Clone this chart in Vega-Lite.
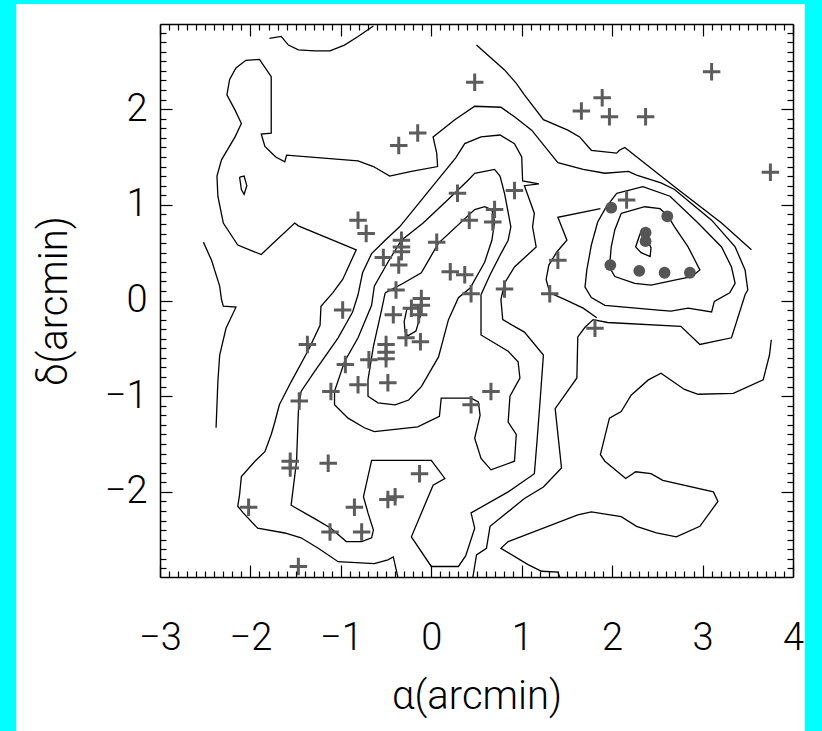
{
  "$schema": "https://vega.github.io/schema/vega-lite/v6.json",
  "width": 633,
  "height": 553,
  "autosize": {"type": "none"},
  "padding": {"left": 160, "top": 24, "right": 29, "bottom": 154},
  "background": "#00FFFF",
  "config": {"view": {"stroke": null, "fill": null}},
  "datasets": {
    "contours": [
      {"c":"A","i":0,"x":-1.79,"y":2.74},{"c":"A","i":1,"x":-1.66,"y":2.76},{"c":"A","i":2,"x":-1.58,"y":2.67},{"c":"A","i":3,"x":-1.47,"y":2.62},{"c":"A","i":4,"x":-1.29,"y":2.61},{"c":"A","i":5,"x":-1.12,"y":2.61},{"c":"A","i":6,"x":-0.96,"y":2.67},{"c":"A","i":7,"x":-0.81,"y":2.76},{"c":"A","i":8,"x":-0.64,"y":2.87},
      {"c":"C","i":0,"x":-2.52,"y":0.61},{"c":"C","i":1,"x":-2.43,"y":0.42},{"c":"C","i":2,"x":-2.34,"y":0.15},{"c":"C","i":3,"x":-2.32,"y":0.01},{"c":"C","i":4,"x":-2.30,"y":-0.06},{"c":"C","i":5,"x":-2.16,"y":-0.07},{"c":"C","i":6,"x":-2.27,"y":-0.29},{"c":"C","i":7,"x":-2.34,"y":-0.57},{"c":"C","i":8,"x":-2.36,"y":-0.85},{"c":"C","i":9,"x":-2.38,"y":-1.33},
      {"c":"S","i":0,"x":-2.12,"y":1.29},{"c":"S","i":1,"x":-2.07,"y":1.30},{"c":"S","i":2,"x":-2.04,"y":1.20},{"c":"S","i":3,"x":-2.07,"y":1.11},{"c":"S","i":4,"x":-2.10,"y":1.16},{"c":"S","i":5,"x":-2.12,"y":1.29},
      {"c":"D","i":0,"x":0.50,"y":2.67},{"c":"D","i":1,"x":0.81,"y":2.41},{"c":"D","i":2,"x":0.94,"y":2.27},{"c":"D","i":3,"x":1.03,"y":2.15},{"c":"D","i":4,"x":1.24,"y":1.89},{"c":"D","i":5,"x":1.51,"y":1.78},{"c":"D","i":6,"x":1.64,"y":1.71},{"c":"D","i":7,"x":1.77,"y":1.57},{"c":"D","i":8,"x":2.05,"y":1.54},{"c":"D","i":9,"x":2.08,"y":1.57},{"c":"D","i":10,"x":2.14,"y":1.60},{"c":"D","i":11,"x":2.69,"y":1.19},{"c":"D","i":12,"x":3.21,"y":0.81},{"c":"D","i":13,"x":3.54,"y":0.53},
      {"c":"B","i":0,"x":-0.37,"y":-2.89},{"c":"B","i":1,"x":-0.42,"y":-2.68},{"c":"B","i":2,"x":-0.48,"y":-2.71},{"c":"B","i":3,"x":-0.63,"y":-2.75},{"c":"B","i":4,"x":-1.03,"y":-2.73},{"c":"B","i":5,"x":-1.25,"y":-2.59},{"c":"B","i":6,"x":-1.44,"y":-2.48},{"c":"B","i":7,"x":-1.62,"y":-2.43},{"c":"B","i":8,"x":-1.92,"y":-2.38},{"c":"B","i":9,"x":-2.08,"y":-2.22},{"c":"B","i":10,"x":-2.14,"y":-2.15},{"c":"B","i":11,"x":-2.12,"y":-2.03},{"c":"B","i":12,"x":-2.10,"y":-1.84},{"c":"B","i":13,"x":-1.95,"y":-1.68},{"c":"B","i":14,"x":-1.84,"y":-1.58},{"c":"B","i":15,"x":-1.77,"y":-1.40},{"c":"B","i":16,"x":-1.73,"y":-1.27},{"c":"B","i":17,"x":-1.68,"y":-1.09},{"c":"B","i":18,"x":-1.55,"y":-0.85},{"c":"B","i":19,"x":-1.36,"y":-0.52},{"c":"B","i":20,"x":-1.23,"y":-0.26},{"c":"B","i":21,"x":-1.22,"y":-0.06},{"c":"B","i":22,"x":-1.09,"y":0.08},{"c":"B","i":23,"x":-0.98,"y":0.22},{"c":"B","i":24,"x":-0.83,"y":0.53},{"c":"B","i":25,"x":-1.47,"y":0.78},{"c":"B","i":26,"x":-1.51,"y":0.81},{"c":"B","i":27,"x":-1.77,"y":0.58},{"c":"B","i":28,"x":-1.88,"y":0.48},{"c":"B","i":29,"x":-2.14,"y":0.58},{"c":"B","i":30,"x":-2.30,"y":0.81},{"c":"B","i":31,"x":-2.36,"y":1.09},{"c":"B","i":32,"x":-2.37,"y":1.30},{"c":"B","i":33,"x":-2.32,"y":1.47},{"c":"B","i":34,"x":-2.17,"y":1.71},{"c":"B","i":35,"x":-2.10,"y":1.85},{"c":"B","i":36,"x":-2.17,"y":1.99},{"c":"B","i":37,"x":-2.26,"y":2.15},{"c":"B","i":38,"x":-2.23,"y":2.31},{"c":"B","i":39,"x":-2.16,"y":2.43},{"c":"B","i":40,"x":-2.05,"y":2.51},{"c":"B","i":41,"x":-1.90,"y":2.52},{"c":"B","i":42,"x":-1.77,"y":2.34},{"c":"B","i":43,"x":-1.77,"y":1.75},{"c":"B","i":44,"x":-1.88,"y":1.74},{"c":"B","i":45,"x":-1.84,"y":1.61},{"c":"B","i":46,"x":-1.72,"y":1.50},{"c":"B","i":47,"x":-1.62,"y":1.45},{"c":"B","i":48,"x":-1.60,"y":1.52},{"c":"B","i":49,"x":-0.81,"y":1.46},{"c":"B","i":50,"x":-0.64,"y":1.40},{"c":"B","i":51,"x":-0.46,"y":1.30},{"c":"B","i":52,"x":-0.22,"y":1.35},{"c":"B","i":53,"x":0.07,"y":1.40},{"c":"B","i":54,"x":0.06,"y":1.54},{"c":"B","i":55,"x":0.02,"y":1.71},{"c":"B","i":56,"x":0.26,"y":1.89},{"c":"B","i":57,"x":0.48,"y":2.03},{"c":"B","i":58,"x":0.77,"y":2.02},{"c":"B","i":59,"x":0.92,"y":1.92},{"c":"B","i":60,"x":1.11,"y":1.78},{"c":"B","i":61,"x":1.29,"y":1.57},{"c":"B","i":62,"x":1.40,"y":1.44},{"c":"B","i":63,"x":1.68,"y":1.37},{"c":"B","i":64,"x":1.92,"y":1.33},{"c":"B","i":65,"x":2.18,"y":1.35},{"c":"B","i":66,"x":2.27,"y":1.31},{"c":"B","i":67,"x":2.54,"y":1.23},{"c":"B","i":68,"x":2.69,"y":1.16},{"c":"B","i":69,"x":3.10,"y":0.84},{"c":"B","i":70,"x":3.36,"y":0.56},{"c":"B","i":71,"x":3.47,"y":0.32},{"c":"B","i":72,"x":3.50,"y":0.11},{"c":"B","i":73,"x":3.47,"y":0.06},{"c":"B","i":74,"x":3.32,"y":-0.39},{"c":"B","i":75,"x":2.97,"y":-0.46},{"c":"B","i":76,"x":2.76,"y":-0.27},{"c":"B","i":77,"x":1.95,"y":-0.23},{"c":"B","i":78,"x":1.79,"y":-0.20},{"c":"B","i":79,"x":1.70,"y":-0.28},{"c":"B","i":80,"x":1.62,"y":-0.38},{"c":"B","i":81,"x":1.61,"y":-0.81},{"c":"B","i":82,"x":1.37,"y":-1.13},{"c":"B","i":83,"x":1.44,"y":-1.75},{"c":"B","i":84,"x":1.24,"y":-1.95},{"c":"B","i":85,"x":1.03,"y":-2.07},{"c":"B","i":86,"x":0.65,"y":-2.36},{"c":"B","i":87,"x":0.61,"y":-2.59},{"c":"B","i":88,"x":0.50,"y":-2.66},{"c":"B","i":89,"x":0.46,"y":-2.89},
      {"c":"L","i":0,"x":-0.81,"y":0.06},{"c":"L","i":1,"x":-0.87,"y":-0.12},{"c":"L","i":2,"x":-1.03,"y":-0.39},{"c":"L","i":3,"x":-1.29,"y":-0.74},{"c":"L","i":4,"x":-1.44,"y":-0.95},{"c":"L","i":5,"x":-1.47,"y":-1.16},{"c":"L","i":6,"x":-1.49,"y":-1.68},{"c":"L","i":7,"x":-1.55,"y":-2.14},{"c":"L","i":8,"x":-1.29,"y":-2.28},{"c":"L","i":9,"x":-1.11,"y":-2.38},{"c":"L","i":10,"x":-0.94,"y":-2.52},{"c":"L","i":11,"x":-0.77,"y":-2.52},{"c":"L","i":12,"x":-0.66,"y":-2.48},{"c":"L","i":13,"x":-0.64,"y":-2.40},{"c":"L","i":14,"x":-0.70,"y":-2.22},{"c":"L","i":15,"x":-0.75,"y":-2.05},{"c":"L","i":16,"x":-0.66,"y":-1.67},{"c":"L","i":17,"x":0.00,"y":-1.67},{"c":"L","i":18,"x":0.15,"y":-1.86},{"c":"L","i":19,"x":0.02,"y":-1.93},{"c":"L","i":20,"x":-0.22,"y":-2.47},{"c":"L","i":21,"x":0.00,"y":-2.78},{"c":"L","i":22,"x":0.30,"y":-2.78},{"c":"L","i":23,"x":0.38,"y":-2.67},{"c":"L","i":24,"x":0.48,"y":-2.38},{"c":"L","i":25,"x":0.44,"y":-2.22},{"c":"L","i":26,"x":0.85,"y":-2.00},{"c":"L","i":27,"x":1.14,"y":-1.81},{"c":"L","i":28,"x":1.17,"y":-1.46},{"c":"L","i":29,"x":1.20,"y":-1.09},{"c":"L","i":30,"x":1.24,"y":-0.57},{"c":"L","i":31,"x":1.03,"y":-0.33},{"c":"L","i":32,"x":0.79,"y":-0.20},{"c":"L","i":33,"x":0.77,"y":0.01},{"c":"L","i":34,"x":0.81,"y":0.18},{"c":"L","i":35,"x":0.92,"y":0.35},{"c":"L","i":36,"x":1.16,"y":0.56},{"c":"L","i":37,"x":1.12,"y":0.77},{"c":"L","i":38,"x":1.14,"y":0.91},{"c":"L","i":39,"x":1.03,"y":1.20},{"c":"L","i":40,"x":1.19,"y":1.22},{"c":"L","i":41,"x":1.01,"y":1.25},{"c":"L","i":42,"x":1.00,"y":1.50},{"c":"L","i":43,"x":0.92,"y":1.64},{"c":"L","i":44,"x":0.76,"y":1.73},{"c":"L","i":45,"x":0.55,"y":1.71},{"c":"L","i":46,"x":0.37,"y":1.64},{"c":"L","i":47,"x":0.27,"y":1.49},{"c":"L","i":48,"x":0.02,"y":1.20},{"c":"L","i":49,"x":-0.35,"y":0.77},{"c":"L","i":50,"x":-0.51,"y":0.63},{"c":"L","i":51,"x":-0.66,"y":0.49},{"c":"L","i":52,"x":-0.76,"y":0.29},{"c":"L","i":53,"x":-0.81,"y":0.06},
      {"c":"E","i":0,"x":0.55,"y":0.06},{"c":"E","i":1,"x":0.65,"y":0.27},{"c":"E","i":2,"x":0.77,"y":0.49},{"c":"E","i":3,"x":0.85,"y":0.63},{"c":"E","i":4,"x":0.88,"y":0.77},{"c":"E","i":5,"x":0.81,"y":1.12},{"c":"E","i":6,"x":0.76,"y":1.30},{"c":"E","i":7,"x":0.70,"y":1.37},{"c":"E","i":8,"x":0.48,"y":1.33},{"c":"E","i":9,"x":0.41,"y":1.26},{"c":"E","i":10,"x":0.18,"y":1.05},{"c":"E","i":11,"x":-0.09,"y":0.81},{"c":"E","i":12,"x":-0.33,"y":0.63},{"c":"E","i":13,"x":-0.48,"y":0.40},{"c":"E","i":14,"x":-0.63,"y":0.15},{"c":"E","i":15,"x":-0.66,"y":-0.05},{"c":"E","i":16,"x":-0.81,"y":-0.39},{"c":"E","i":17,"x":-0.96,"y":-0.64},{"c":"E","i":18,"x":-1.07,"y":-0.95},{"c":"E","i":19,"x":-1.07,"y":-1.09},{"c":"E","i":20,"x":-0.92,"y":-1.23},{"c":"E","i":21,"x":-0.74,"y":-1.33},{"c":"E","i":22,"x":-0.63,"y":-1.37},{"c":"E","i":23,"x":-0.15,"y":-1.32},{"c":"E","i":24,"x":0.09,"y":-1.21},{"c":"E","i":25,"x":0.11,"y":-1.02},{"c":"E","i":26,"x":0.44,"y":-1.02},{"c":"E","i":27,"x":0.52,"y":-1.06},{"c":"E","i":28,"x":0.54,"y":-1.20},{"c":"E","i":29,"x":0.48,"y":-1.44},{"c":"E","i":30,"x":0.55,"y":-1.65},{"c":"E","i":31,"x":0.66,"y":-1.77},{"c":"E","i":32,"x":0.92,"y":-1.68},{"c":"E","i":33,"x":0.94,"y":-1.40},{"c":"E","i":34,"x":0.85,"y":-1.27},{"c":"E","i":35,"x":0.87,"y":-1.00},{"c":"E","i":36,"x":0.98,"y":-0.81},{"c":"E","i":37,"x":0.96,"y":-0.64},{"c":"E","i":38,"x":0.85,"y":-0.53},{"c":"E","i":39,"x":0.55,"y":-0.36},{"c":"E","i":40,"x":0.55,"y":0.06},
      {"c":"I2","i":0,"x":-0.51,"y":0.08},{"c":"I2","i":1,"x":-0.31,"y":0.18},{"c":"I2","i":2,"x":-0.11,"y":0.29},{"c":"I2","i":3,"x":0.08,"y":0.60},{"c":"I2","i":4,"x":0.48,"y":0.95},{"c":"I2","i":5,"x":0.59,"y":0.98},{"c":"I2","i":6,"x":0.67,"y":0.95},{"c":"I2","i":7,"x":0.70,"y":0.82},{"c":"I2","i":8,"x":0.67,"y":0.63},{"c":"I2","i":9,"x":0.59,"y":0.40},{"c":"I2","i":10,"x":0.43,"y":0.13},{"c":"I2","i":11,"x":0.30,"y":0.03},{"c":"I2","i":12,"x":0.19,"y":-0.20},{"c":"I2","i":13,"x":0.08,"y":-0.59},{"c":"I2","i":14,"x":-0.11,"y":-0.90},{"c":"I2","i":15,"x":-0.25,"y":-1.04},{"c":"I2","i":16,"x":-0.40,"y":-1.09},{"c":"I2","i":17,"x":-0.59,"y":-1.07},{"c":"I2","i":18,"x":-0.70,"y":-1.00},{"c":"I2","i":19,"x":-0.70,"y":-0.83},{"c":"I2","i":20,"x":-0.64,"y":-0.48},{"c":"I2","i":21,"x":-0.55,"y":-0.10},{"c":"I2","i":22,"x":-0.51,"y":0.08},
      {"c":"I1","i":0,"x":-0.27,"y":-0.09},{"c":"I1","i":1,"x":-0.30,"y":-0.22},{"c":"I1","i":2,"x":-0.29,"y":-0.33},{"c":"I1","i":3,"x":-0.26,"y":-0.37},{"c":"I1","i":4,"x":-0.17,"y":-0.32},{"c":"I1","i":5,"x":-0.12,"y":-0.16},{"c":"I1","i":6,"x":-0.16,"y":-0.07},{"c":"I1","i":7,"x":-0.27,"y":-0.09},
      {"c":"R1","i":0,"x":2.31,"y":0.70},{"c":"R1","i":1,"x":2.26,"y":0.56},{"c":"R1","i":2,"x":2.32,"y":0.50},{"c":"R1","i":3,"x":2.42,"y":0.46},{"c":"R1","i":4,"x":2.43,"y":0.55},{"c":"R1","i":5,"x":2.37,"y":0.68},{"c":"R1","i":6,"x":2.31,"y":0.70},
      {"c":"R2","i":0,"x":2.10,"y":0.91},{"c":"R2","i":1,"x":2.36,"y":0.98},{"c":"R2","i":2,"x":2.53,"y":0.96},{"c":"R2","i":3,"x":2.62,"y":0.88},{"c":"R2","i":4,"x":2.69,"y":0.77},{"c":"R2","i":5,"x":2.84,"y":0.56},{"c":"R2","i":6,"x":2.97,"y":0.32},{"c":"R2","i":7,"x":2.88,"y":0.25},{"c":"R2","i":8,"x":2.73,"y":0.22},{"c":"R2","i":9,"x":2.43,"y":0.16},{"c":"R2","i":10,"x":2.25,"y":0.18},{"c":"R2","i":11,"x":2.03,"y":0.25},{"c":"R2","i":12,"x":1.97,"y":0.35},{"c":"R2","i":13,"x":1.99,"y":0.56},{"c":"R2","i":14,"x":2.03,"y":0.74},{"c":"R2","i":15,"x":2.10,"y":0.91},
      {"c":"R3","i":0,"x":2.05,"y":1.12},{"c":"R3","i":1,"x":2.34,"y":1.19},{"c":"R3","i":2,"x":2.64,"y":1.09},{"c":"R3","i":3,"x":2.95,"y":0.81},{"c":"R3","i":4,"x":3.21,"y":0.56},{"c":"R3","i":5,"x":3.32,"y":0.35},{"c":"R3","i":6,"x":3.36,"y":0.18},{"c":"R3","i":7,"x":3.30,"y":0.08},{"c":"R3","i":8,"x":3.13,"y":-0.01},{"c":"R3","i":9,"x":3.10,"y":-0.12},{"c":"R3","i":10,"x":2.84,"y":-0.08},{"c":"R3","i":11,"x":2.65,"y":-0.11},{"c":"R3","i":12,"x":2.51,"y":-0.10},{"c":"R3","i":13,"x":1.92,"y":-0.05},{"c":"R3","i":14,"x":1.77,"y":0.03},{"c":"R3","i":15,"x":1.70,"y":0.14},{"c":"R3","i":16,"x":1.72,"y":0.32},{"c":"R3","i":17,"x":1.77,"y":0.58},{"c":"R3","i":18,"x":1.84,"y":0.82},{"c":"R3","i":19,"x":1.93,"y":0.97},{"c":"R3","i":20,"x":2.05,"y":1.12},
      {"c":"R4","i":0,"x":1.87,"y":0.96},{"c":"R4","i":1,"x":1.40,"y":0.87},{"c":"R4","i":2,"x":1.50,"y":0.63},{"c":"R4","i":3,"x":1.39,"y":0.51},{"c":"R4","i":4,"x":1.30,"y":0.37},{"c":"R4","i":5,"x":1.27,"y":0.22},{"c":"R4","i":6,"x":1.31,"y":0.08},{"c":"R4","i":7,"x":1.48,"y":0.01},{"c":"R4","i":8,"x":1.68,"y":-0.08},{"c":"R4","i":9,"x":1.83,"y":-0.18},
      {"c":"H","i":0,"x":3.76,"y":-0.41},{"c":"H","i":1,"x":3.74,"y":-0.57},{"c":"H","i":2,"x":3.67,"y":-0.83},{"c":"H","i":3,"x":3.34,"y":-0.97},{"c":"H","i":4,"x":2.95,"y":-0.98},{"c":"H","i":5,"x":2.80,"y":-0.93},{"c":"H","i":6,"x":2.54,"y":-0.76},{"c":"H","i":7,"x":2.40,"y":-0.83},{"c":"H","i":8,"x":2.21,"y":-0.99},{"c":"H","i":9,"x":2.10,"y":-1.16},{"c":"H","i":10,"x":1.97,"y":-1.23},{"c":"H","i":11,"x":1.87,"y":-1.61},{"c":"H","i":12,"x":1.92,"y":-1.68},{"c":"H","i":13,"x":2.15,"y":-1.86},{"c":"H","i":14,"x":2.26,"y":-1.79},{"c":"H","i":15,"x":2.43,"y":-1.81},{"c":"H","i":16,"x":2.56,"y":-1.88},{"c":"H","i":17,"x":3.12,"y":-2.00},{"c":"H","i":18,"x":3.17,"y":-2.10},{"c":"H","i":19,"x":2.97,"y":-2.36},{"c":"H","i":20,"x":2.71,"y":-2.47},{"c":"H","i":21,"x":2.49,"y":-2.43},{"c":"H","i":22,"x":2.27,"y":-2.36},{"c":"H","i":23,"x":2.10,"y":-2.26},{"c":"H","i":24,"x":1.77,"y":-2.21},{"c":"H","i":25,"x":1.62,"y":-2.24},{"c":"H","i":26,"x":0.85,"y":-2.52},{"c":"H","i":27,"x":0.77,"y":-2.59},{"c":"H","i":28,"x":1.07,"y":-2.76},{"c":"H","i":29,"x":1.22,"y":-2.83},{"c":"H","i":30,"x":1.40,"y":-2.84},{"c":"H","i":31,"x":1.42,"y":-2.89}
    ],
    "crosses": [
      {"x":0.48,"y":2.28},{"x":3.10,"y":2.39},{"x":-0.15,"y":1.75},{"x":-0.36,"y":1.62},{"x":1.66,"y":1.98},{"x":1.89,"y":2.12},{"x":1.97,"y":1.92},{"x":2.37,"y":1.92},{"x":3.75,"y":1.34},{"x":0.29,"y":1.12},{"x":0.92,"y":1.15},{"x":2.16,"y":1.05},{"x":0.70,"y":0.95},{"x":0.68,"y":0.82},{"x":0.42,"y":0.84},{"x":-0.81,"y":0.84},{"x":-0.72,"y":0.70},{"x":0.06,"y":0.61},{"x":-0.33,"y":0.63},{"x":-0.33,"y":0.56},{"x":-0.33,"y":0.51},{"x":-0.53,"y":0.45},{"x":-0.36,"y":0.37},{"x":0.21,"y":0.30},{"x":0.37,"y":0.27},{"x":1.40,"y":0.42},{"x":1.31,"y":0.07},{"x":0.81,"y":0.12},{"x":0.44,"y":0.07},{"x":-0.39,"y":0.11},{"x":-0.11,"y":0.02},{"x":-0.98,"y":-0.10},{"x":-1.37,"y":-0.46},{"x":-0.95,"y":-0.67},{"x":-0.69,"y":-0.62},{"x":-0.81,"y":-0.88},{"x":-1.11,"y":-0.95},{"x":-1.46,"y":-1.05},{"x":-1.56,"y":-1.68},{"x":-1.56,"y":-1.75},{"x":-1.14,"y":-1.70},{"x":-2.02,"y":-2.16},{"x":-0.85,"y":-2.16},{"x":-1.12,"y":-2.42},{"x":-0.77,"y":-2.42},{"x":-1.47,"y":-2.78},{"x":-0.42,"y":-0.15},{"x":-0.22,"y":-0.08},{"x":-0.11,"y":-0.05},{"x":-0.14,"y":-0.15},{"x":-0.28,"y":-0.39},{"x":-0.12,"y":-0.43},{"x":-0.50,"y":-0.46},{"x":-0.50,"y":-0.54},{"x":-0.50,"y":-0.61},{"x":-0.48,"y":-0.86},{"x":0.44,"y":-1.09},{"x":0.66,"y":-0.95},{"x":-0.13,"y":-1.81},{"x":-0.48,"y":-2.08},{"x":-0.40,"y":-2.05},{"x":1.81,"y":-0.29}
    ],
    "circles": [
      {"x":1.99,"y":0.97},{"x":2.61,"y":0.88},{"x":2.37,"y":0.71},{"x":2.37,"y":0.62},{"x":1.98,"y":0.37},{"x":2.30,"y":0.31},{"x":2.58,"y":0.29},{"x":2.86,"y":0.29}
    ]
  },
  "resolve": {"axis": {"x": "independent", "y": "independent"}},
  "layer": [
    {
      "data": {"values": [{}]},
      "mark": {"type": "rect", "color": "white", "clip": false},
      "encoding": {
        "x": {"datum": -4.59, "type": "quantitative", "scale": {"domain": [-3, 4], "nice": false, "zero": false}, "axis": null},
        "x2": {"datum": 4.13},
        "y": {"datum": -4.6, "type": "quantitative", "scale": {"domain": [-2.89, 2.89], "nice": false, "zero": false}, "axis": null},
        "y2": {"datum": 3.1}
      }
    },
    {
      "data": {"name": "contours"},
      "mark": {"type": "line", "color": "black", "strokeWidth": 1.3, "clip": true},
      "encoding": {
        "x": {"field": "x", "type": "quantitative", "scale": {"domain": [-3, 4], "nice": false, "zero": false},
          "axis": {"orient": "bottom", "zindex": 1, "grid": false, "tickCount": 70, "domainColor": "black", "domainWidth": 1.5, "tickColor": "black", "tickWidth": 1.2,
            "tickSize": {"condition": {"test": "abs(datum.value - round(datum.value)) < 0.01", "value": -12}, "value": -6},
            "labelExpr": "abs(datum.value - round(datum.value)) < 0.01 ? format(datum.value, 'd') : ''",
            "labelOverlap": false, "labelFlush": false, "labelBound": false, "labelPadding": 54,
            "labelFont": "Roboto", "labelFontWeight": 300, "labelFontSize": 38, "labelColor": "black",
            "title": "α(arcmin)", "titleFont": "Roboto", "titleFontWeight": 300, "titleFontSize": 40, "titleColor": "black", "titleBaseline": "alphabetic", "titleY": 131}},
        "y": {"field": "y", "type": "quantitative", "scale": {"domain": [-2.89, 2.89], "nice": false, "zero": false},
          "axis": {"orient": "left", "zindex": 1, "grid": false, "tickCount": 58, "domainColor": "black", "domainWidth": 1.5, "tickColor": "black", "tickWidth": 1.2,
            "tickSize": {"condition": {"test": "abs(datum.value - round(datum.value)) < 0.01", "value": -12}, "value": -6},
            "labelExpr": "abs(datum.value - round(datum.value)) < 0.01 ? format(datum.value, 'd') : ''",
            "labelOverlap": false, "labelFlush": false, "labelBound": false, "labelPadding": 25,
            "labelFont": "Roboto", "labelFontWeight": 300, "labelFontSize": 38, "labelColor": "black",
            "title": "δ(arcmin)", "titleFont": "Roboto", "titleFontWeight": 300, "titleFontSize": 40, "titleColor": "black", "titleBaseline": "alphabetic", "titleAngle": -90, "titleX": -94}},
        "detail": {"field": "c"},
        "order": {"field": "i", "type": "quantitative"}
      }
    },
    {
      "data": {"name": "crosses"},
      "mark": {"type": "point", "shape": "M-1,0H1M0,-1V1", "filled": false, "stroke": "#5c5c5c", "strokeWidth": 3, "size": 306, "opacity": 1},
      "encoding": {
        "x": {"field": "x", "type": "quantitative", "scale": {"domain": [-3, 4], "nice": false, "zero": false},
          "axis": {"orient": "top", "zindex": 1, "grid": false, "tickCount": 70, "domainColor": "black", "domainWidth": 1.5, "tickColor": "black", "tickWidth": 1.2,
            "tickSize": {"condition": {"test": "abs(datum.value - round(datum.value)) < 0.01", "value": -12}, "value": -6},
            "labels": false, "title": null}},
        "y": {"field": "y", "type": "quantitative", "scale": {"domain": [-2.89, 2.89], "nice": false, "zero": false},
          "axis": {"orient": "right", "zindex": 1, "grid": false, "tickCount": 58, "domainColor": "black", "domainWidth": 1.5, "tickColor": "black", "tickWidth": 1.2,
            "tickSize": {"condition": {"test": "abs(datum.value - round(datum.value)) < 0.01", "value": -12}, "value": -6},
            "labels": false, "title": null}}
      }
    },
    {
      "data": {"name": "circles"},
      "mark": {"type": "point", "shape": "circle", "filled": true, "color": "#555555", "size": 140, "opacity": 1},
      "encoding": {
        "x": {"field": "x", "type": "quantitative", "scale": {"domain": [-3, 4], "nice": false, "zero": false}, "axis": null},
        "y": {"field": "y", "type": "quantitative", "scale": {"domain": [-2.89, 2.89], "nice": false, "zero": false}, "axis": null}
      }
    }
  ]
}
